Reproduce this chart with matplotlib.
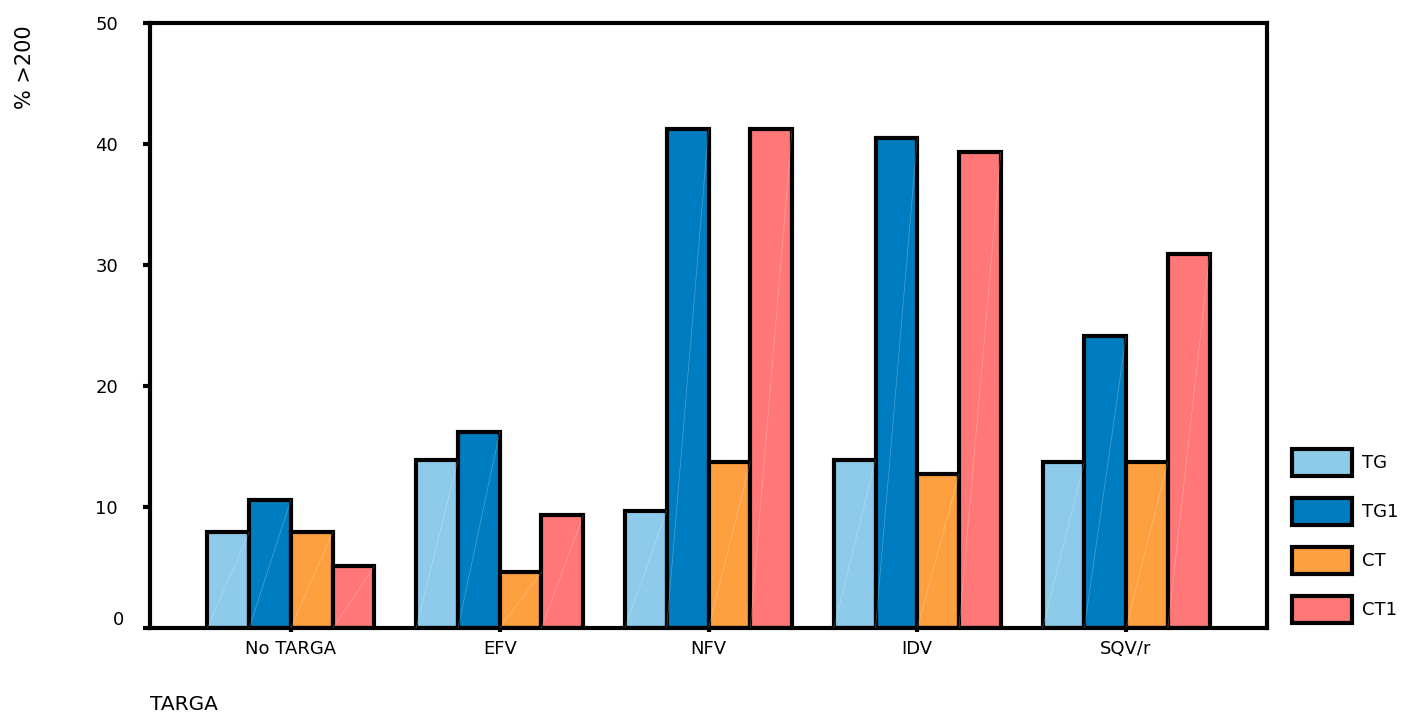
import numpy as np
import matplotlib
matplotlib.use('Agg')
import matplotlib.pyplot as plt
from matplotlib.transforms import ScaledTranslation

plt.rcParams['font.family'] = ['DejaVu Sans']

# data
categories = ['No TARGA', 'EFV', 'NFV', 'IDV', 'SQV/r']
series_names = ['TG', 'TG1', 'CT', 'CT1']
tg = [7.9, 13.9, 9.7, 13.9, 13.7]
tg1 = [10.6, 16.2, 41.2, 40.5, 24.1]
ct = [7.9, 4.6, 13.7, 12.7, 13.7]
ct1 = [5.1, 9.3, 41.2, 39.3, 30.9]
colors = ['#8ECBEA', '#007DC0', '#FFA040', '#FF7777']

fig = plt.figure(figsize=(14.01, 7.16), dpi=100)
ax = fig.add_axes([150 / 1401, 1 - 628 / 716, 1117 / 1401, 605 / 716])

x = np.arange(len(categories))
width = 0.2
offsets = [-0.3, -0.1, 0.1, 0.3]
handles = []
for vals, name, col, off in zip([tg, tg1, ct, ct1], series_names, colors, offsets):
    bars = ax.bar(x + off, vals, width, color=col, edgecolor='black',
                  linewidth=3, label=name, zorder=2)
    handles.append(bars)
    # faint diagonal sheen seen on each bar
    for b in bars:
        x0, w, h = b.get_x(), b.get_width(), b.get_height()
        ax.plot([x0, x0 + w], [0, h], color='white', lw=0.6, alpha=0.25, zorder=3)

ax.set_xlim(-0.675, 4.675)
ax.set_ylim(0, 50)
ax.set_yticks([0, 10, 20, 30, 40, 50])
ax.set_xticks(x)
ax.set_xticklabels(categories)

for s in ax.spines.values():
    s.set_linewidth(3)
    s.set_color('black')

ax.tick_params(axis='y', direction='out', length=5, width=3, labelsize=13, pad=18)
ax.tick_params(axis='x', direction='out', length=3, width=3, labelsize=13, pad=6)

# the "0" label sits a little higher and to the right in the original
lbl0 = ax.get_yticklabels()[0]
lbl0.set_transform(lbl0.get_transform() + ScaledTranslation(0.06, 0.1, fig.dpi_scale_trans))

fig.text(25 / 1401, 1 - 25 / 716, '% >200', rotation=90, ha='center', va='top', fontsize=15)
fig.text(150 / 1401, 1 - 704 / 716, 'TARGA', ha='left', va='center', fontsize=14.5)

leg = fig.legend(handles=handles, labels=series_names, loc='upper left',
                 bbox_to_anchor=(1292 / 1401, 1 - 449 / 716), frameon=False,
                 borderpad=0, borderaxespad=0, handlelength=3.32, handleheight=1.95,
                 labelspacing=1.2, handletextpad=0.55, fontsize=13)

plt.savefig('out.png', dpi=100)
